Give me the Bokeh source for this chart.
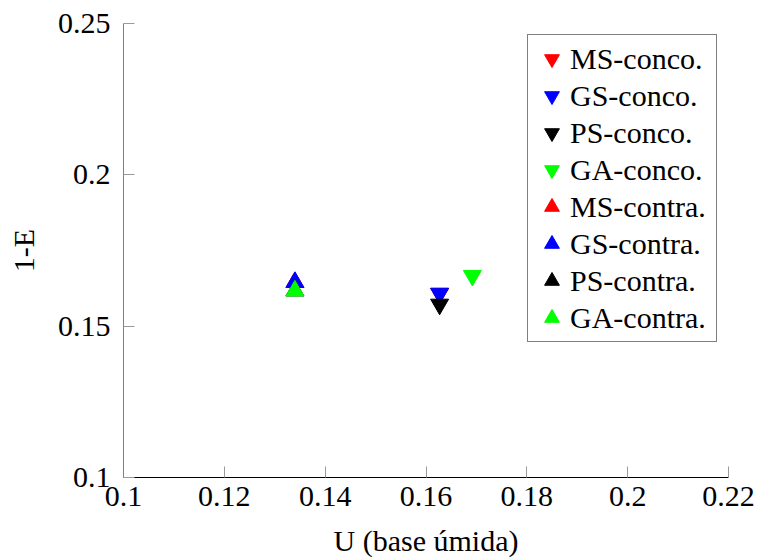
from bokeh.plotting import figure
from bokeh.models import Range1d, FixedTicker, NumeralTickFormatter, Legend, LegendItem
from bokeh.embed import file_html
from bokeh.resources import INLINE

# Data
series = ["MS-conco.", "GS-conco.", "PS-conco.", "GA-conco.",
          "MS-contra.", "GS-contra.", "PS-contra.", "GA-contra."]
colors = ["#ff0000", "#0000ff", "#000000", "#00ff00",
          "#ff0000", "#0000ff", "#000000", "#00ff00"]
markers = ["inverted_triangle"] * 4 + ["triangle"] * 4
u_values = [0.1627, 0.1627, 0.1627, 0.1692, 0.1340, 0.1340, 0.1340, 0.1340]
one_minus_e = [0.1608, 0.1608, 0.1572, 0.1667, 0.1645, 0.1645, 0.1617, 0.1617]
x_ticks = [0.1, 0.12, 0.14, 0.16, 0.18, 0.2, 0.22]
y_ticks = [0.1, 0.15, 0.2, 0.25]

FONT = "'Liberation Serif', 'DejaVu Serif', serif"
FS = "30px"

p = figure(width=758, height=560, output_backend="svg", toolbar_location=None,
           x_range=Range1d(0.1, 0.22), y_range=Range1d(0.1, 0.25),
           min_border_left=123, min_border_right=30, min_border_top=23, min_border_bottom=83)
p.outline_line_color = None
p.xgrid.visible = False
p.ygrid.visible = False
p.background_fill_color = "white"
p.border_fill_color = "white"

for ax, ticks in ((p.xaxis, x_ticks), (p.yaxis, y_ticks)):
    ax.ticker = FixedTicker(ticks=ticks)
    ax.formatter = NumeralTickFormatter(format="0.[00]")
    ax.major_tick_in = 11
    ax.major_tick_out = 0
    ax.minor_tick_line_color = None
    ax.major_tick_line_color = "#9a9a9a"
    ax.major_label_text_font = FONT
    ax.major_label_text_font_size = FS
    ax.major_label_text_color = "black"
    ax.axis_label_text_font = FONT
    ax.axis_label_text_font_size = FS
    ax.axis_label_text_font_style = "normal"
    ax.axis_label_text_color = "black"

p.xaxis.axis_line_color = "black"
p.yaxis.axis_line_color = "#808080"
p.xaxis.axis_label = "U (base úmida)"
p.yaxis.axis_label = "1-E"
p.xaxis.major_label_standoff = 9
p.yaxis.major_label_standoff = 13
p.xaxis.axis_label_standoff = 15
p.yaxis.axis_label_standoff = 15

items = []
for name, c, m, u, e in zip(series, colors, markers, u_values, one_minus_e):
    r = p.scatter([u], [e], marker=m, size=18, fill_color=c, line_color=c)
    items.append(LegendItem(label=name, renderers=[r]))

legend = Legend(items=items, location="top_right")
legend.label_text_font = FONT
legend.label_text_font_size = FS
legend.label_text_color = "black"
legend.label_standoff = -11
legend.label_width = 141
legend.glyph_width = 37
legend.glyph_height = 37
legend.label_height = 37
legend.spacing = 0
legend.padding = 5
legend.margin = 11
legend.border_line_color = "black"
legend.border_line_width = 1
legend.background_fill_color = "white"
legend.background_fill_alpha = 1
p.add_layout(legend)

open("out.html", "w").write(file_html(p, INLINE))
